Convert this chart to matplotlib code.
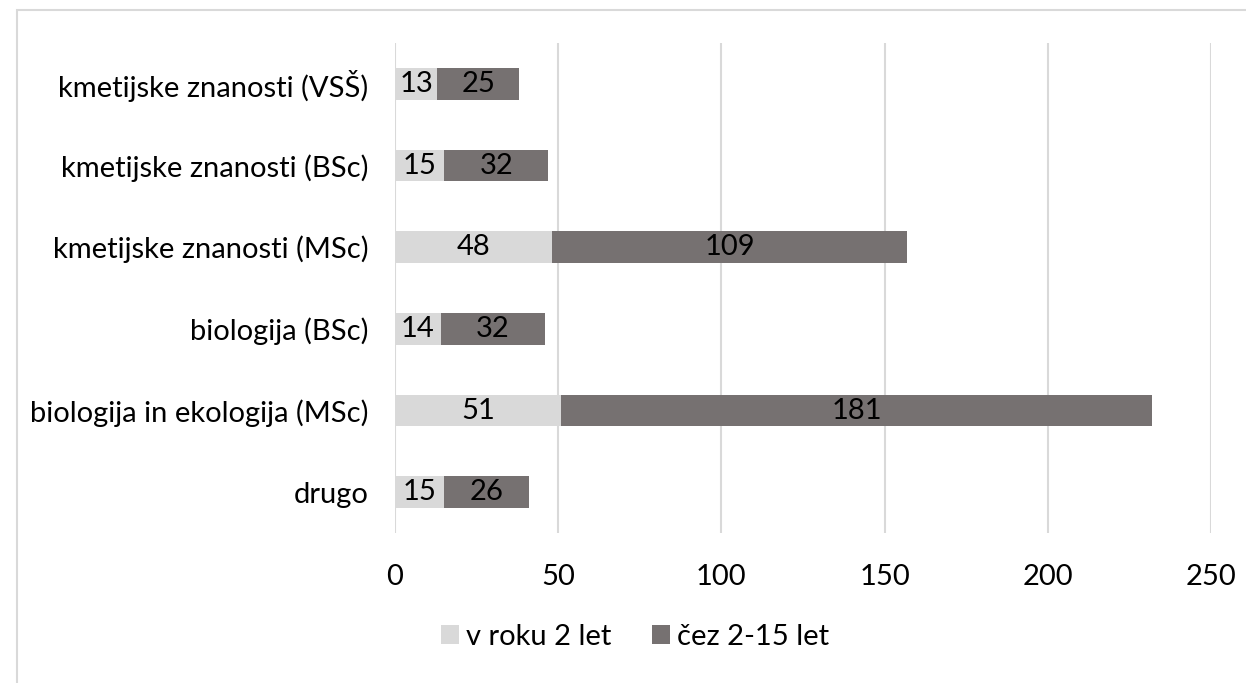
import matplotlib
matplotlib.use("Agg")
import matplotlib.pyplot as plt
from matplotlib.patches import Rectangle

categories = ["kmetijske znanosti (VSŠ)", "kmetijske znanosti (BSc)", "kmetijske znanosti (MSc)",
              "biologija (BSc)", "biologija in ekologija (MSc)", "drugo"]
within_2 = [13, 15, 48, 14, 51, 15]
after_2_15 = [25, 32, 109, 32, 181, 26]
series_names = ["v roku 2 let", "čez 2-15 let"]
xticks = [0, 50, 100, 150, 200, 250]

plt.rcParams['font.family'] = ['Lato', 'DejaVu Sans']
FS = 21

fig = plt.figure(figsize=(12.46, 6.83), dpi=100)
ax = fig.add_axes([395/1246, 1-533/683, (1211-395)/1246, (533-43)/683])

# figure border
fig.patches.append(Rectangle((17/1246, -0.1), 1.2, 1-10/683+0.1, transform=fig.transFigure,
                             fill=False, edgecolor='#d9d9d9', linewidth=1.5))

y = list(range(len(categories)))[::-1]
h = 0.39
c1, c2 = '#d9d9d9', '#767171'
b1 = ax.barh(y, within_2, height=h, color=c1, label=series_names[0], zorder=3)
b2 = ax.barh(y, after_2_15, left=within_2, height=h, color=c2, label=series_names[1], zorder=3)
for bars in (b1, b2):
    ax.bar_label(bars, label_type='center', fontsize=FS, color='black')

ax.set_xlim(0, 250)
ax.set_ylim(-0.5, 5.5)
ax.set_xticks(xticks)
ax.set_xticklabels([str(t) for t in xticks], fontsize=FS)
ax.set_yticks(y)
ax.set_yticklabels(categories, fontsize=FS)
ax.grid(axis='x', color='#d9d9d9', linewidth=1.5, zorder=0)
for s in ax.spines.values():
    s.set_visible(False)
ax.tick_params(axis='y', length=0, pad=19)
ax.tick_params(axis='x', length=0, pad=22)

fig.legend(handles=[b1, b2], labels=series_names, loc='center', bbox_to_anchor=(635/1246, 1-637/683),
           ncol=2, frameon=False, fontsize=FS, handlelength=0.6, handleheight=0.6,
           handletextpad=0.25, columnspacing=1.4)

fig.savefig("out.png", dpi=100)
